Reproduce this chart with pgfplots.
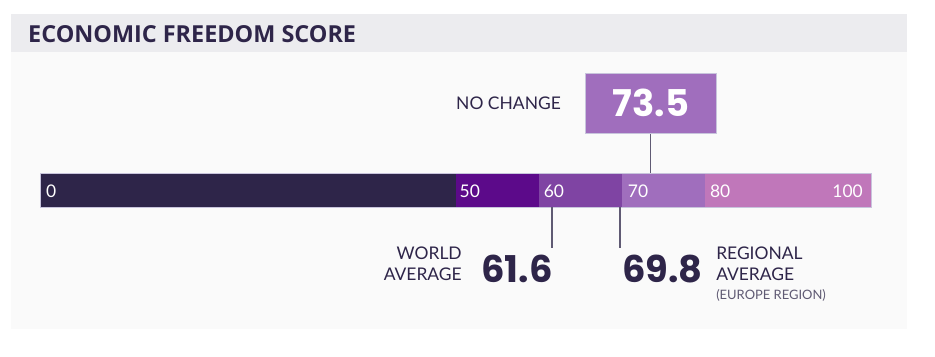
\documentclass[border=0pt]{standalone}
\usepackage{pgfplots}
\pgfplotsset{compat=1.18}
\usepackage{fontspec}
\setmainfont{Lato}
\newfontfamily\numfont{Poppins}
\newfontfamily\titlefont{Open Sans}
\definecolor{cdark}{HTML}{2E2549}
\definecolor{cseg2}{HTML}{5C0A8A}
\definecolor{cseg3}{HTML}{7F44A3}
\definecolor{cseg4}{HTML}{A06EBD}
\definecolor{cseg5}{HTML}{C077BA}
\definecolor{cline}{HTML}{5F5A73}
\definecolor{coutline}{HTML}{C8C4DC}
\definecolor{cpanel}{HTML}{FAFAFA}
\definecolor{cband}{HTML}{ECECEF}
\begin{document}
\begin{tikzpicture}[x=1bp,y=1bp]
\path[use as bounding box] (0,0) rectangle (935,356);
\fill[cpanel] (11,27) rectangle (907,304);
\fill[cband] (11,304) rectangle (907,342);
\node[anchor=base west, inner sep=0, text=cdark, font=\titlefont\bfseries\fontsize{23.5}{25}\selectfont] at (28,314) {ECONOMIC FREEDOM SCORE};
\begin{axis}[
  at={(40bp,0bp)}, anchor=origin,
  scale only axis, width=831bp, height=356bp,
  xmin=0, xmax=100, ymin=0, ymax=356,
  hide axis, clip=false,
]
% score bands (0-50, 50-60, 60-70, 70-80, 80-100)
\addplot[fill=cdark, draw=none] coordinates {(0,149) (50,149) (50,183) (0,183)} -- cycle;
\addplot[fill=cseg2, draw=none] coordinates {(50,149) (60,149) (60,183) (50,183)} -- cycle;
\addplot[fill=cseg3, draw=none] coordinates {(60,149) (70,149) (70,183) (60,183)} -- cycle;
\addplot[fill=cseg4, draw=none] coordinates {(70,149) (80,149) (80,183) (70,183)} -- cycle;
\addplot[fill=cseg5, draw=none] coordinates {(80,149) (100,149) (100,183) (80,183)} -- cycle;
\draw[coutline, line width=0.8bp] (axis cs:0,149) rectangle (axis cs:100,183);
% reference lines
\addplot[draw=cline, line width=1.2bp, no marks] coordinates {(61.6,149) (61.6,108)};
\addplot[draw=cline, line width=1.2bp, no marks] coordinates {(69.8,149) (69.8,108)};
\addplot[draw=cline, line width=1.2bp, no marks] coordinates {(73.5,183) (73.5,223)};
% bar labels
\begin{scope}[every node/.style={inner sep=0, text=white, font=\fontsize{17.5}{18}\selectfont}]
\node[anchor=base west, xshift=6bp] at (axis cs:0,158) {0};
\node[anchor=base west, xshift=4bp] at (axis cs:50,158) {50};
\node[anchor=base west, xshift=5bp] at (axis cs:60,158) {60};
\node[anchor=base west, xshift=6bp] at (axis cs:70,158) {70};
\node[anchor=base west, xshift=5bp] at (axis cs:80,158) {80};
\node[anchor=base east, xshift=-8bp] at (axis cs:100,158) {100};
\end{scope}
% box
\node[fill=cseg4, draw=coutline, line width=0.5bp, minimum width=131bp, minimum height=60bp, inner sep=0, text=white, font=\numfont\bfseries\fontsize{37}{40}\selectfont] (box) at (axis cs:73.5,253) {73.5};
\node[anchor=east, inner sep=0, xshift=-24bp, text=cdark, font=\fontsize{17.5}{19}\selectfont] at (box.west) {NO CHANGE};
% world
\node[anchor=base east, inner sep=0, xshift=1bp, text=cdark, font=\numfont\bfseries\fontsize{37}{40}\selectfont] at (axis cs:61.6,74) {61.6};
\node[anchor=base east, inner sep=0, xshift=-90bp, text=cdark, font=\fontsize{17.5}{19}\selectfont] at (axis cs:61.6,96) {WORLD};
\node[anchor=base east, inner sep=0, xshift=-90bp, text=cdark, font=\fontsize{17.5}{19}\selectfont] at (axis cs:61.6,76) {AVERAGE};
% regional
\node[anchor=base west, inner sep=0, xshift=2bp, text=cdark, font=\numfont\bfseries\fontsize{37}{40}\selectfont] at (axis cs:69.8,74) {69.8};
\node[anchor=base west, inner sep=0, xshift=96bp, text=cdark, font=\fontsize{17.5}{19}\selectfont] at (axis cs:69.8,96) {REGIONAL};
\node[anchor=base west, inner sep=0, xshift=96bp, text=cdark, font=\fontsize{17.5}{19}\selectfont] at (axis cs:69.8,76) {AVERAGE};
\node[anchor=base west, inner sep=0, xshift=96bp, text=cline, font=\fontsize{13}{14}\selectfont] at (axis cs:69.8,57) {(EUROPE REGION)};
\end{axis}
\end{tikzpicture}
\end{document}
